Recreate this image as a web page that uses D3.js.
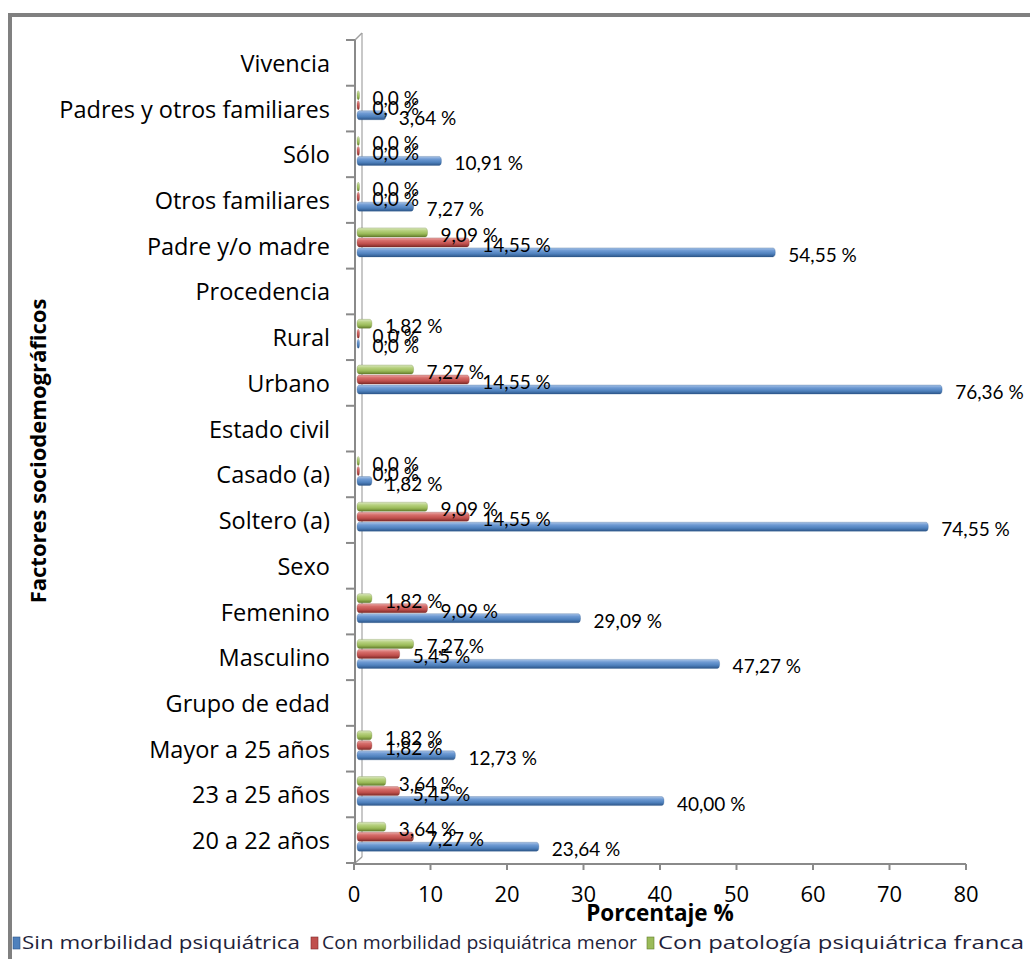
<!DOCTYPE html>
<html>
<head>
<meta charset="utf-8">
<script src="https://cdn.jsdelivr.net/npm/d3@7"></script>
<style>
  html, body { margin: 0; padding: 0; background: #fff; }
  svg { display: block; font-family: "Open Sans", Lato, sans-serif; }
</style>
</head>
<body>
<svg id="chart" width="1030" height="959"></svg>
<script>
// Categories, listed from top to bottom; group headers carry no bars.
const categories = [
  "Vivencia", "Padres y otros familiares", "Sólo", "Otros familiares", "Padre y/o madre",
  "Procedencia", "Rural", "Urbano",
  "Estado civil", "Casado (a)", "Soltero (a)",
  "Sexo", "Femenino", "Masculino",
  "Grupo de edad", "Mayor a 25 años", "23 a 25 años", "20 a 22 años"
];

const seriesNames = [
  "Sin morbilidad psiquiátrica",
  "Con morbilidad psiquiátrica menor",
  "Con patología psiquiátrica franca"
];

// Percentages per category (null = header row)
const sinMorbilidad = [null, 3.64, 10.91, 7.27, 54.55, null, 0.0, 76.36, null, 1.82, 74.55, null, 29.09, 47.27, null, 12.73, 40.00, 23.64];
const morbilidadMenor = [null, 0.0, 0.0, 0.0, 14.55, null, 0.0, 14.55, null, 0.0, 14.55, null, 9.09, 5.45, null, 1.82, 5.45, 7.27];
const patologiaFranca = [null, 0.0, 0.0, 0.0, 9.09, null, 1.82, 7.27, null, 0.0, 9.09, null, 1.82, 7.27, null, 1.82, 3.64, 3.64];

const xTicks = [0, 10, 20, 30, 40, 50, 60, 70, 80];

const series = [
  { name: seriesNames[0], values: sinMorbilidad, key: "blue",
    stops: ["#a9c3e6", "#6e9ad3", "#4f81bd", "#2d5689"] },
  { name: seriesNames[1], values: morbilidadMenor, key: "red",
    stops: ["#eaa9a7", "#d66d6a", "#c0504d", "#7e2a28"] },
  { name: seriesNames[2], values: patologiaFranca, key: "green",
    stops: ["#dbe8c2", "#b7d17f", "#9bbb59", "#637d2c"] }
];

const svg = d3.select("#chart");

// outer frame
svg.append("rect").attr("width", 1030).attr("height", 959).attr("fill", "#fff");
svg.append("rect")
  .attr("x", 10).attr("y", 15).attr("width", 1100).attr("height", 1000)
  .attr("fill", "none").attr("stroke", "#808080").attr("stroke-width", 4);

const x = d3.scaleLinear().domain([0, 80]).range([354, 966]);
const y = d3.scaleBand().domain(categories).range([40, 863]).paddingInner(0).paddingOuter(0);
const bw = y.bandwidth();

// gradients for the cylindrical bar look
const defs = svg.append("defs");
series.forEach(s => {
  const g = defs.append("linearGradient").attr("id", "grad-" + s.key)
    .attr("x1", 0).attr("y1", 0).attr("x2", 0).attr("y2", 1);
  g.append("stop").attr("offset", "0%").attr("stop-color", s.stops[0]);
  g.append("stop").attr("offset", "30%").attr("stop-color", s.stops[1]);
  g.append("stop").attr("offset", "65%").attr("stop-color", s.stops[2]);
  g.append("stop").attr("offset", "100%").attr("stop-color", s.stops[3]);
});

// back wall of the 3D plot
const wall = svg.append("g").attr("fill", "none");
wall.append("line").attr("x1", 362).attr("x2", 362).attr("y1", 33).attr("y2", 857)
  .attr("stroke", "#c8c8c8").attr("stroke-width", 2);
wall.append("line").attr("x1", 355).attr("y1", 40).attr("x2", 362).attr("y2", 33)
  .attr("stroke", "#a0a0a0").attr("stroke-width", 1.5);
wall.append("line").attr("x1", 355).attr("y1", 863).attr("x2", 362).attr("y2", 857)
  .attr("stroke", "#a0a0a0").attr("stroke-width", 1.5);

// vertical category axis with ticks at band edges
const yAxis = svg.append("g");
yAxis.append("line").attr("x1", 355).attr("x2", 355).attr("y1", 40).attr("y2", 864)
  .attr("stroke", "#8a8a8a").attr("stroke-width", 2);
const edges = categories.map(c => y(c)).concat([y(categories[categories.length - 1]) + bw]);
yAxis.selectAll("line.tick").data(edges).join("line").attr("class", "tick")
  .attr("x1", 346).attr("x2", 355).attr("y1", d => d).attr("y2", d => d)
  .attr("stroke", "#8a8a8a").attr("stroke-width", 2);

yAxis.selectAll("text").data(categories).join("text")
  .attr("x", 330).attr("y", d => y(d) + bw / 2 + 9)
  .attr("text-anchor", "end").attr("font-size", 23.5).attr("fill", "#000")
  .text(d => d);

// horizontal value axis
const xAxis = svg.append("g");
xAxis.append("line").attr("x1", x(0)).attr("x2", x(80)).attr("y1", 864).attr("y2", 864)
  .attr("stroke", "#8a8a8a").attr("stroke-width", 2);
xAxis.selectAll("line.tick").data(xTicks).join("line").attr("class", "tick")
  .attr("x1", d => x(d)).attr("x2", d => x(d)).attr("y1", 864).attr("y2", 870)
  .attr("stroke", "#8a8a8a").attr("stroke-width", 2);
xAxis.selectAll("text").data(xTicks).join("text")
  .attr("x", d => x(d)).attr("y", 902).attr("text-anchor", "middle")
  .attr("font-size", 22).attr("fill", "#000").text(d => d);

// bars
const barH = 9;
const barX0 = 357;
const barEnd = v => Math.max(x(v) + 4, barX0 + 2.5);
const offsets = [25, 15, 5];   // blue lowest, green on top
const fmt = v => v === 0 ? "0,0 %" : v.toFixed(2).replace(".", ",") + " %";

const barsG = svg.append("g");
const labelsG = svg.append("g").attr("font-family", "Lato, sans-serif");
series.forEach((s, si) => {
  const rows = categories.map((c, i) => ({ c, v: s.values[i] })).filter(d => d.v !== null);
  barsG.selectAll("rect.b" + si).data(rows).join("rect").attr("class", "b" + si)
    .attr("x", barX0).attr("y", d => y(d.c) + offsets[si])
    .attr("width", d => barEnd(d.v) - barX0).attr("height", barH)
    .attr("rx", 2.5).attr("ry", 4.5)
    .attr("fill", "url(#grad-" + s.key + ")")
    .attr("stroke", s.stops[3]).attr("stroke-opacity", 0.35).attr("stroke-width", 0.8);
  labelsG.selectAll("text.l" + si).data(rows).join("text").attr("class", "l" + si)
    .attr("x", d => barEnd(d.v) + 13)
    .attr("y", d => y(d.c) + offsets[si] + barH / 2 + 9.5)
    .attr("font-size", 19).attr("fill", "#000").text(d => fmt(d.v));
});

// axis titles
svg.append("text").attr("transform", "translate(46,451) rotate(-90)")
  .attr("text-anchor", "middle").attr("font-size", 22).attr("font-weight", "bold")
  .text("Factores sociodemográficos");
svg.append("text").attr("x", 660).attr("y", 921).attr("text-anchor", "middle")
  .attr("font-size", 22.5).attr("font-weight", "bold").text("Porcentaje %");

// legend
const legendItems = [
  { sq: 13, tx: 22, w: 278 },
  { sq: 311, tx: 322, w: 315 },
  { sq: 647, tx: 658, w: 366 }
];
const lg = svg.append("g");
series.forEach((s, i) => {
  const it = legendItems[i];
  lg.append("rect").attr("x", it.sq).attr("y", 937).attr("width", 7).attr("height", 12)
    .attr("fill", s.stops[2]).attr("stroke", s.stops[3]).attr("stroke-width", 0.6);
  lg.append("text").attr("x", it.tx).attr("y", 949).attr("font-size", 19)
    .attr("textLength", it.w).attr("lengthAdjust", "spacingAndGlyphs")
    .attr("fill", "#1f1f3a").text(s.name);
});
</script>
</body>
</html>
